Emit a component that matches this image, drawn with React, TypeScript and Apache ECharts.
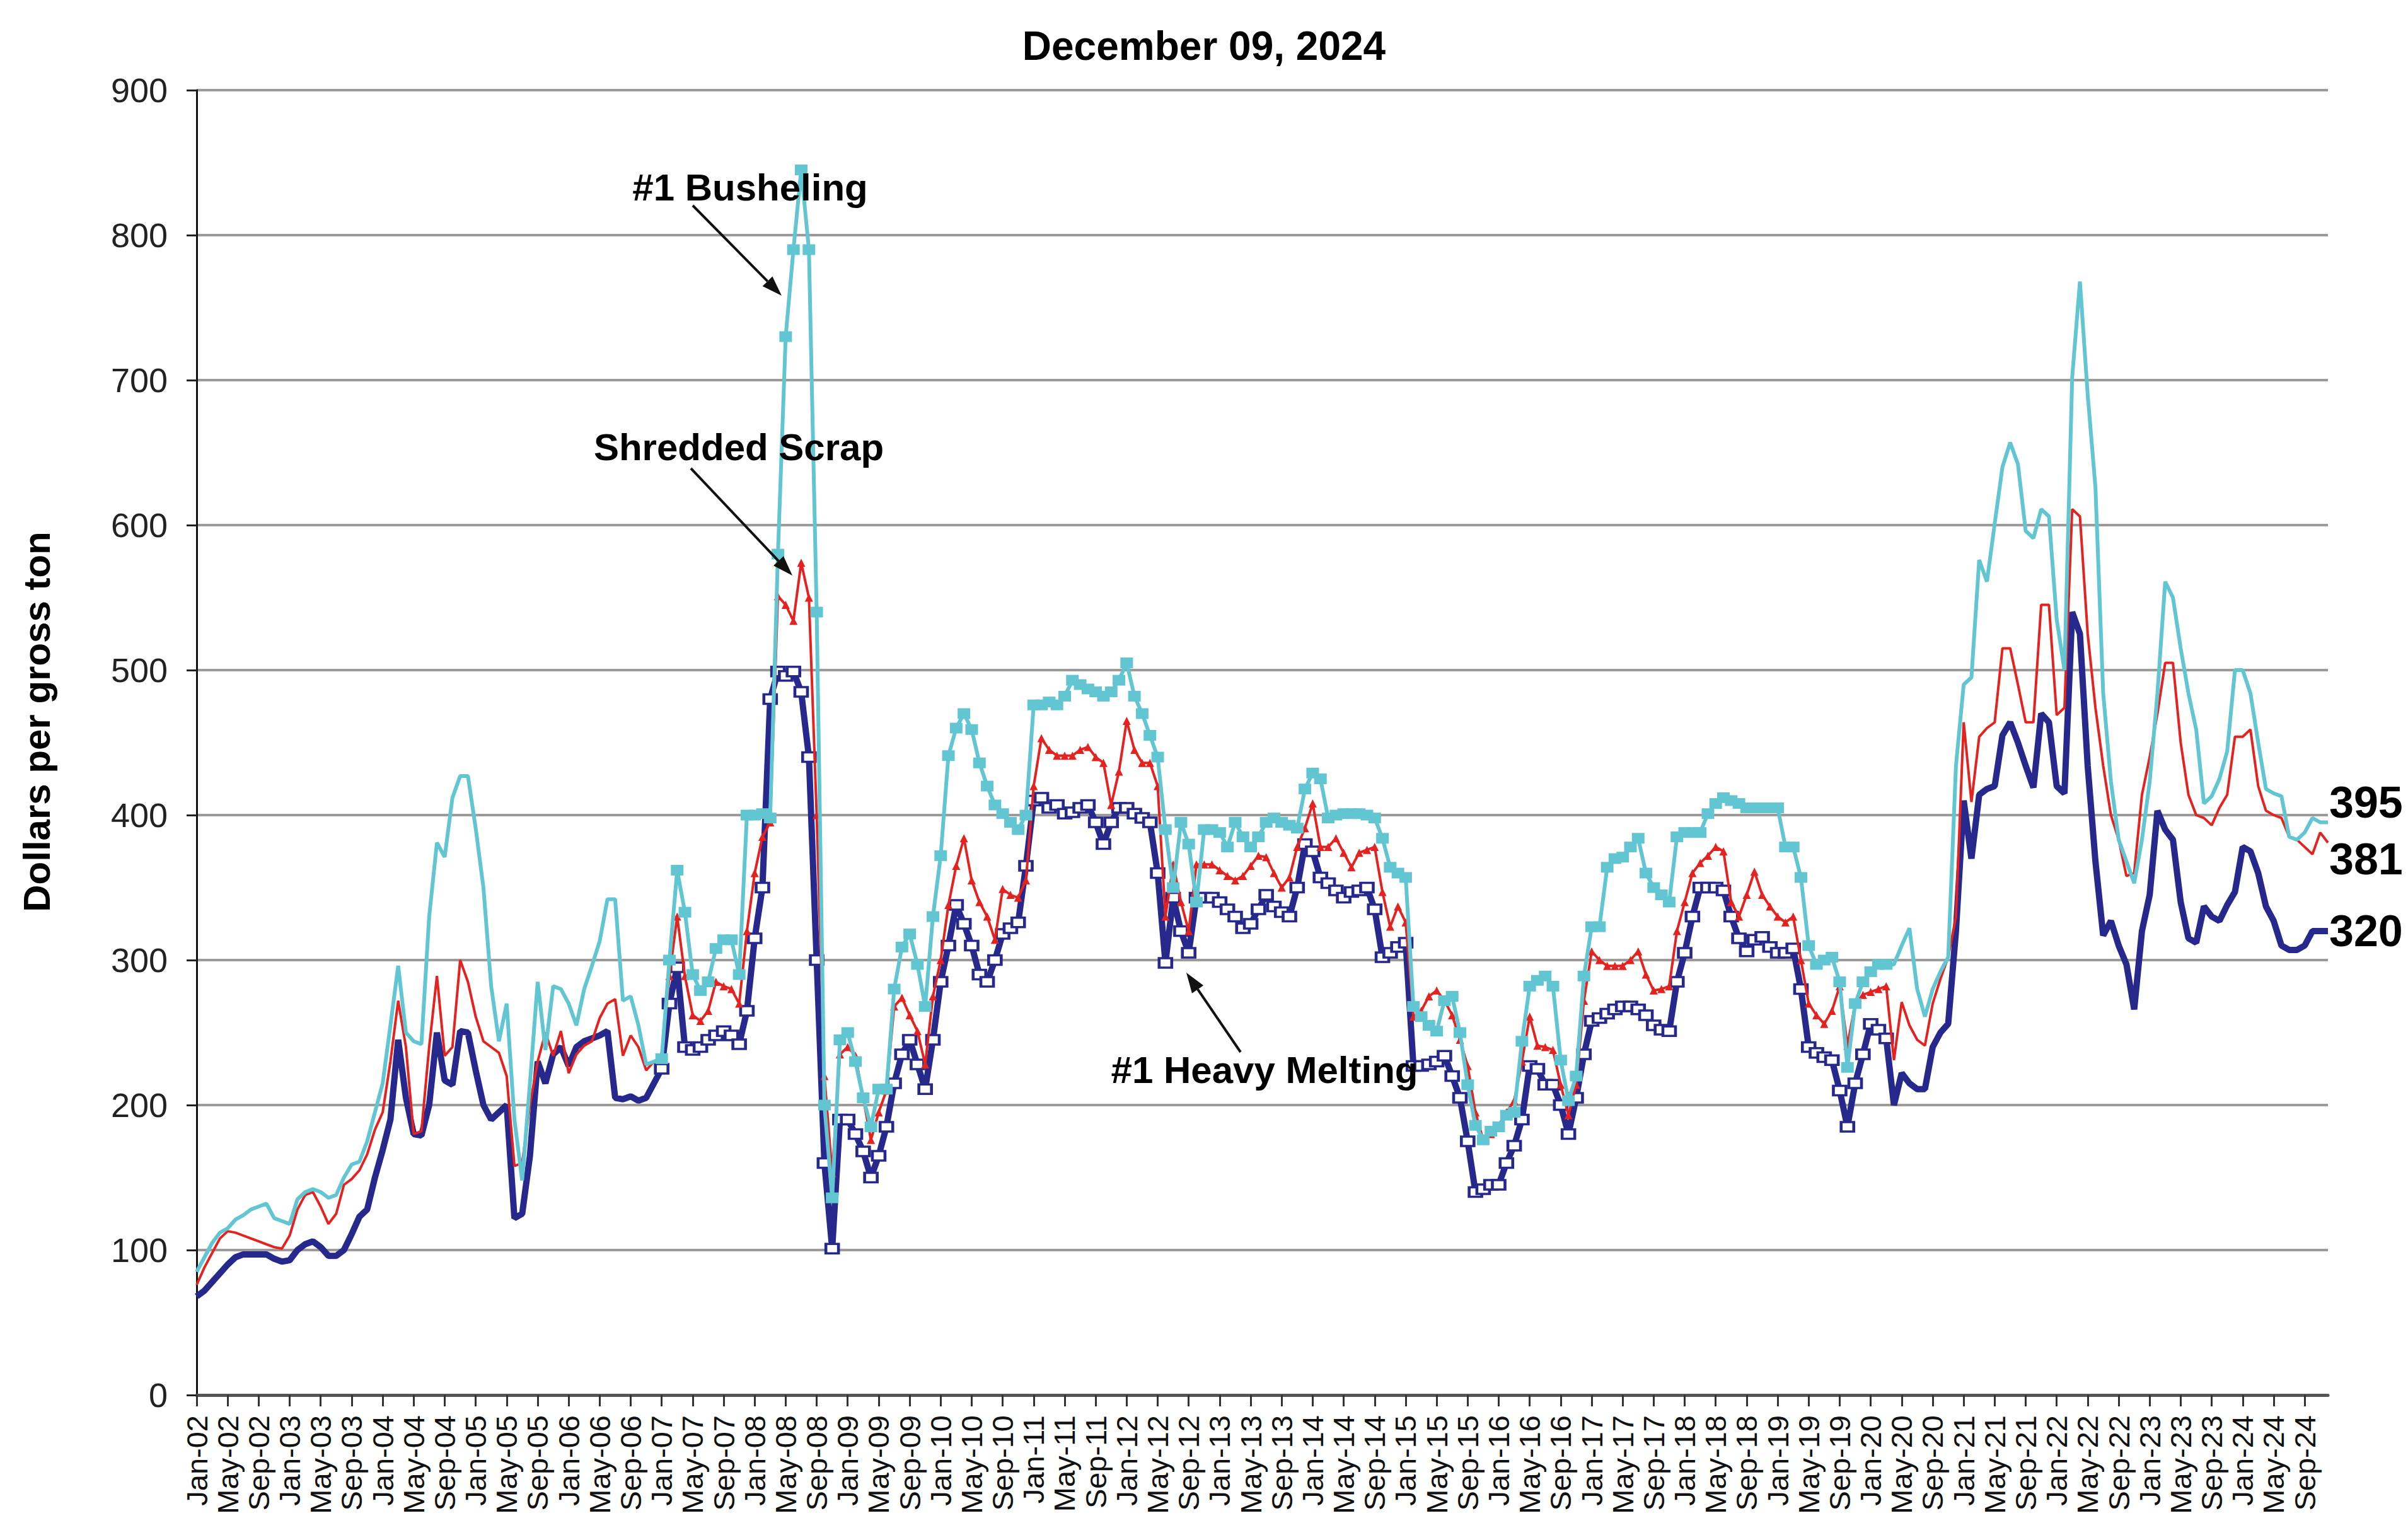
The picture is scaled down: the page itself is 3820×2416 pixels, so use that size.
import React, { useEffect, useRef } from "react";
import * as echarts from "echarts";

const MONTH_NAMES = ["Jan", "Feb", "Mar", "Apr", "May", "Jun", "Jul", "Aug", "Sep", "Oct", "Nov", "Dec"];
const FIRST_YEAR = 2002;
const LAST_YEAR = 2024;
const Y_TICKS = [0, 100, 200, 300, 400, 500, 600, 700, 800, 900];
const LABEL_EVERY = 4; // a tick label every 4 months

// Monthly values Jan-02 .. Dec-24 (dollars per gross ton), one row per year
const heavyMelting = [
  68, 72, 78, 84, 90, 95, 97, 97, 97, 97, 94, 92,
  93, 100, 104, 106, 102, 96, 96, 100, 111, 123, 128, 150,
  169, 190, 245, 205, 180, 179, 200, 250, 217, 214, 251, 250,
  224, 200, 190, 195, 200, 122, 125, 165, 230, 215, 235, 240,
  227, 240, 244, 246, 248, 251, 205, 204, 206, 203, 205, 215,
  225, 270, 295, 240, 238, 240, 245, 248, 251, 248, 242, 265,
  315, 350, 480, 499, 496, 499, 485, 440, 300, 160, 101, 190,
  190, 180, 168, 150, 165, 185, 215, 235, 245, 228, 211, 245,
  285, 310, 338, 325, 310, 290, 285, 300, 318, 322, 326, 365,
  410, 412, 405, 407, 401, 402, 405, 407, 395, 380, 395, 405,
  405, 401, 398, 395, 360, 298, 343, 320, 305, 343, 343, 343,
  340, 335, 330, 322, 325, 335, 345, 337, 333, 330, 350, 380,
  375, 357, 353, 348, 343, 347, 348, 350, 335, 302, 305, 309,
  312, 227, 227, 228, 230, 234, 220, 205, 175, 140, 142, 145,
  145, 160, 172, 190, 227, 225, 214, 214, 200, 180, 205, 235,
  258, 260, 263, 266, 268, 268, 266, 262, 255, 252, 251, 285,
  305, 330, 350, 350, 350, 348, 330, 315, 306, 314, 316, 309,
  305, 305, 308, 280, 240, 236, 233, 231, 210, 185, 215, 235,
  256, 252, 246, 200, 222, 215, 211, 211, 240, 250, 256, 320,
  410, 370, 414, 418, 420, 455, 464, 450, 434, 419, 470, 464,
  420, 415, 540, 525, 434, 368, 317, 327, 310, 297, 266, 320,
  345, 403, 390, 383, 340, 315, 312, 337, 330, 327, 338, 347,
  378, 375, 360, 337, 327, 310, 307, 307, 310, 320, 320, 320,
];

const shredded = [
  76, 88, 98, 108, 113, 112, 110, 108, 106, 104, 102, 101,
  110, 128, 138, 140, 130, 118, 125, 145, 149, 155, 166, 183,
  195, 230, 272, 240, 180, 182, 240, 289, 234, 240, 300, 285,
  261, 244, 240, 236, 220, 158, 160, 200, 230, 250, 234, 251,
  222, 235, 241, 244, 260, 270, 273, 234, 248, 240, 224, 230,
  234, 289, 330, 289, 262, 258, 265, 285, 282, 280, 270, 320,
  360, 385, 395, 551, 545, 534, 574, 550, 400, 220, 153, 235,
  240, 234, 205, 176, 195, 210, 268, 274, 262, 251, 228, 275,
  300, 338, 365, 384, 355, 340, 330, 314, 349, 345, 343, 355,
  420, 453, 445, 441, 441, 441, 445, 447, 440, 436, 407, 430,
  465, 445, 436, 436, 420, 330, 366, 340, 320, 366, 366, 366,
  362, 358, 355, 358, 365, 372, 371, 360, 350, 357, 378, 391,
  408, 378, 378, 384, 374, 364, 374, 376, 378, 347, 323, 337,
  326, 261, 265, 275, 279, 272, 262, 245, 227, 195, 176, 180,
  186, 195, 203, 230, 261, 241, 240, 238, 214, 193, 214, 272,
  306, 300, 296, 296, 296, 300, 306, 290, 279, 280, 282, 320,
  340, 360, 367, 372, 378, 375, 340, 330, 345, 361, 345, 337,
  330, 326, 330, 300, 270, 262, 256, 265, 282, 241, 270, 276,
  278, 280, 282, 231, 271, 255, 245, 241, 270, 287, 302, 330,
  464, 409, 454, 460, 464, 515, 515, 490, 464, 464, 545, 545,
  469, 474, 611, 606, 525, 474, 434, 400, 383, 358, 360, 414,
  440, 470, 505, 505, 450, 414, 400, 398, 393, 405, 414, 454,
  454, 459, 420, 403, 400, 398, 385, 383, 378, 373, 388, 381,
];

const busheling = [
  85, 95, 105, 112, 115, 121, 124, 128, 130, 132, 122, 120,
  118, 135, 140, 142, 140, 136, 138, 150, 159, 161, 175, 195,
  215, 255, 296, 250, 244, 242, 330, 381, 371, 412, 427, 427,
  391, 350, 282, 244, 270, 190, 148, 215, 285, 238, 282, 280,
  270, 255, 280, 296, 313, 342, 342, 272, 275, 255, 228, 230,
  232, 300, 362, 333, 290, 279, 285, 308, 314, 314, 290, 400,
  400, 401, 398, 580, 730, 790, 845, 790, 540, 200, 136, 245,
  250, 230, 205, 185, 211, 211, 280, 309, 318, 297, 268, 330,
  372, 441, 460, 470, 459, 436, 420, 407, 401, 395, 390, 400,
  476, 476, 478, 476, 482, 493, 490, 487, 485, 482, 485, 493,
  505, 482, 470, 455, 440, 390, 350, 395, 380, 340, 390, 390,
  388, 378, 395, 385, 378, 385, 395, 398, 395, 393, 391, 418,
  429, 425, 398, 400, 401, 401, 401, 400, 398, 384, 364, 360,
  357, 268, 261, 255, 251, 272, 275, 250, 214, 186, 176, 182,
  185, 193, 195, 244, 282, 286, 289, 282, 231, 203, 220, 289,
  323, 323, 364, 370, 371, 378, 384, 360, 350, 345, 340, 385,
  388, 388, 388, 401, 408, 412, 410, 408, 405, 405, 405, 405,
  405, 378, 378, 357, 310, 297, 300, 302, 285, 226, 270, 285,
  292, 297, 297, 297, 310, 322, 280, 261, 280, 292, 302, 434,
  490, 495, 576, 561, 601, 640, 657, 642, 596, 591, 611, 606,
  535, 500, 702, 768, 690, 626, 484, 423, 383, 368, 353, 383,
  423, 484, 561, 550, 515, 484, 459, 408, 413, 425, 444, 500,
  500, 484, 450, 418, 415, 413, 385, 383, 388, 398, 395, 395,
];

// months (index) in which the source shows point markers
const MARK_START = 60;
const MARK_END = 218;

const categories: string[] = [];
for (let y = FIRST_YEAR; y <= LAST_YEAR; y++) {
  for (let m = 0; m < 12; m++) {
    categories.push(`${MONTH_NAMES[m]}-${String(y % 100).padStart(2, "0")}`);
  }
}

const FONT = "'Liberation Sans', Arial, Helvetica, sans-serif";
const NAVY = "#27288c";
const RED = "#e42320";
const CYAN = "#62c6d2";

function arrow(x1: number, y1: number, x2: number, y2: number) {
  const ang = Math.atan2(y2 - y1, x2 - x1);
  const len = 32;
  const half = 11;
  const bx = x2 - len * Math.cos(ang);
  const by = y2 - len * Math.sin(ang);
  const px = -Math.sin(ang) * half;
  const py = Math.cos(ang) * half;
  return [
    {
      type: "line",
      shape: { x1, y1, x2: bx, y2: by },
      style: { stroke: "#111", lineWidth: 4 },
      z: 100,
    },
    {
      type: "polygon",
      shape: { points: [[x2, y2], [bx + px, by + py], [bx - px, by - py]] },
      style: { fill: "#111" },
      z: 100,
    },
  ];
}

function annotation(text: string, x: number, y: number) {
  return {
    type: "text",
    x,
    y,
    z: 100,
    style: {
      text,
      fill: "#000",
      font: `bold 60px ${FONT}`,
      textAlign: "center",
      textVerticalAlign: "middle",
    },
  };
}

const inMarkRange = (i: number) => i >= MARK_START && i <= MARK_END;

export default function App() {
  const ref = useRef<HTMLDivElement>(null);

  useEffect(() => {
    if (!ref.current) return;
    const chart = echarts.init(ref.current, null, { renderer: "svg" });

    const endLabel = (dy: number) => ({
      show: true,
      formatter: (p: any) => String(p.value),
      color: "#000",
      fontFamily: FONT,
      fontWeight: "bold",
      fontSize: 70,
      distance: 2,
      offset: [0, dy],
    });

    const option: any = {
      animation: false,
      backgroundColor: "#ffffff",
      title: {
        text: "December 09, 2024",
        left: 1905,
        textAlign: "center",
        top: 36,
        textStyle: { fontFamily: FONT, fontWeight: "bold", fontSize: 64, color: "#000" },
      },
      grid: { left: 312, right: 127, top: 143, bottom: 203, containLabel: false },
      xAxis: {
        type: "category",
        data: categories,
        boundaryGap: false,
        axisLine: { show: true, lineStyle: { color: "#555", width: 5 } },
        axisTick: {
          show: true,
          interval: (i: number) => i % LABEL_EVERY === 0,
          length: 18,
          lineStyle: { color: "#333", width: 3 },
        },
        axisLabel: {
          interval: (i: number) => i % LABEL_EVERY === 0,
          showMinLabel: true,
          showMaxLabel: true,
          hideOverlap: false,
          rotate: 90,
          margin: 32,
          fontFamily: FONT,
          fontSize: 47,
          color: "#111",
        },
        splitLine: { show: false },
      },
      yAxis: {
        type: "value",
        min: Y_TICKS[0],
        max: Y_TICKS[Y_TICKS.length - 1],
        interval: 100,
        axisLine: { show: true, lineStyle: { color: "#111", width: 3 } },
        axisTick: { show: true, length: 16, lineStyle: { color: "#222", width: 3 } },
        axisLabel: { margin: 46, fontFamily: FONT, fontSize: 54, color: "#222" },
        splitLine: { show: true, lineStyle: { color: "#9e9a9a", width: 4 } },
      },
      series: [
        {
          name: "#1 Heavy Melting",
          type: "line",
          data: heavyMelting,
          showSymbol: true,
          showAllSymbol: true,
          symbol: "rect",
          symbolSize: (_v: any, p: any) => (inMarkRange(p.dataIndex) ? [20, 15] : 0),
          lineStyle: { color: NAVY, width: 10 },
          itemStyle: { color: "#ffffff", borderColor: NAVY, borderWidth: 4 },
          z: 2,
          endLabel: endLabel(0),
        },
        {
          name: "Shredded Scrap",
          type: "line",
          data: shredded,
          showSymbol: true,
          showAllSymbol: true,
          symbol: "triangle",
          symbolSize: (_v: any, p: any) => (inMarkRange(p.dataIndex) ? 13 : 0),
          lineStyle: { color: RED, width: 4 },
          itemStyle: { color: RED, borderWidth: 0 },
          z: 3,
          endLabel: endLabel(26),
        },
        {
          name: "#1 Busheling",
          type: "line",
          data: busheling,
          showSymbol: true,
          showAllSymbol: true,
          symbol: "rect",
          symbolSize: (_v: any, p: any) => (inMarkRange(p.dataIndex) ? [20, 17] : 0),
          lineStyle: { color: CYAN, width: 6 },
          itemStyle: { color: CYAN, borderWidth: 0 },
          z: 4,
          endLabel: endLabel(-32),
        },
      ],
      graphic: [
        {
          type: "text",
          x: 58,
          y: 1145,
          rotation: Math.PI / 2,
          style: {
            text: "Dollars per gross ton",
            fill: "#000",
            font: `bold 60px ${FONT}`,
            textAlign: "center",
            textVerticalAlign: "middle",
          },
        },
        annotation("#1 Busheling", 1190, 297),
        ...arrow(1099, 326, 1240, 469),
        annotation("Shredded Scrap", 1172, 709),
        ...arrow(1096, 743, 1257, 913),
        annotation("#1 Heavy Melting", 2006, 1697),
        ...arrow(1968, 1669, 1882, 1543),
      ],
    };

    chart.setOption(option);
    return () => chart.dispose();
  }, []);

  return (
    <div
      ref={ref}
      style={{ position: "fixed", left: 0, top: 0, width: 3820, height: 2416, background: "#fff" }}
    />
  );
}
